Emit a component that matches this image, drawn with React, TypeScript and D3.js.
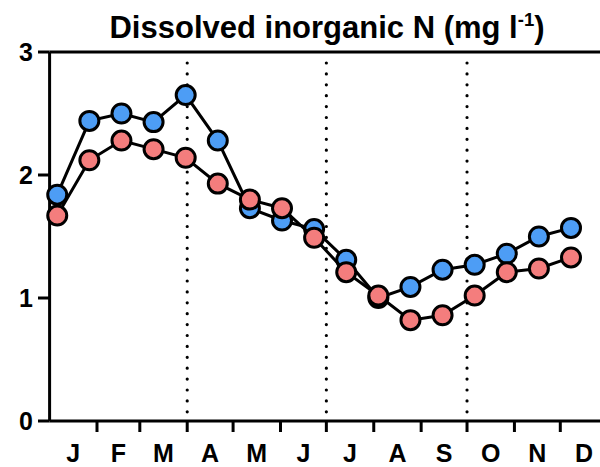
import React from "react";
import * as d3 from "d3";

// sampling days (day of year), roughly every three weeks
const days = [5, 26, 47, 68, 89, 110, 131, 152, 173, 194, 215, 236, 257, 278, 299, 320, 341];
const seriesBlue = [1.84, 2.44, 2.5, 2.43, 2.65, 2.28, 1.73, 1.63, 1.56, 1.31, 1.0, 1.09, 1.23, 1.27, 1.36, 1.5, 1.57];
const seriesRed = [1.67, 2.12, 2.28, 2.21, 2.14, 1.93, 1.8, 1.73, 1.49, 1.21, 1.02, 0.82, 0.86, 1.02, 1.21, 1.24, 1.33];

const monthLabels = ["J", "F", "M", "A", "M", "J", "J", "A", "S", "O", "N", "D"];
const monthStarts = [0, 31, 59, 90, 120, 151, 181, 212, 243, 273, 304, 334, 365];
const quarterDays = [90, 181, 273];
const yTicks = [0, 1, 2, 3];

const W = 600, H = 467;
const font = "'Liberation Sans', Arial, sans-serif";

export default function App() {
  const x = d3.scaleLinear().domain([0, 365]).range([49.6, 607.7]);
  const y = d3.scaleLinear().domain([0, 3]).range([421, 52]);

  const line = d3.line<number>()
    .x((_, i) => x(days[i]))
    .y(d => y(d));

  const series = [
    { values: seriesBlue, fill: "#4d9df5" },
    { values: seriesRed, fill: "#f47d7d" },
  ];

  return (
    <svg width={W} height={H} style={{ position: "absolute", left: 0, top: 0, background: "#fff" }}>
      {/* title */}
      <text x={327} y={38} textAnchor="middle" fontFamily={font} fontWeight="bold" fontSize={31}>
        Dissolved inorganic N (mg l
        <tspan fontSize={18.5} dy={-12}>-1</tspan>
        <tspan dy={12}>)</tspan>
      </text>

      {/* quarter separators */}
      {quarterDays.map(d => (
        <line key={d} x1={x(d)} x2={x(d)} y1={y(3) + 11} y2={y(0)}
          stroke="#000" strokeWidth={3.2} strokeDasharray="0 10.9" strokeLinecap="round" />
      ))}

      {/* y axis */}
      <line x1={x(0)} x2={x(0)} y1={y(3)} y2={y(0)} stroke="#000" strokeWidth={3} />
      {yTicks.map(t => (
        <g key={t}>
          <line x1={38} x2={x(0)} y1={y(t)} y2={y(t)} stroke="#000" strokeWidth={3} />
          <text x={33} y={y(t)} dy="0.36em" textAnchor="end" fontFamily={font} fontWeight="bold" fontSize={25}>{t}</text>
        </g>
      ))}
      {/* top border line */}
      <line x1={x(0)} x2={W} y1={y(3)} y2={y(3)} stroke="#000" strokeWidth={3} />

      {/* x axis */}
      <line x1={x(0)} x2={W} y1={y(0)} y2={y(0)} stroke="#000" strokeWidth={3} />
      {monthStarts.slice(1, 12).map(d => (
        <line key={d} x1={x(d)} x2={x(d)} y1={y(0)} y2={y(0) + 11} stroke="#000" strokeWidth={3} />
      ))}
      {monthLabels.map((m, i) => (
        <text key={i} x={x((monthStarts[i] + monthStarts[i + 1]) / 2)} y={462} textAnchor="middle"
          fontFamily={font} fontWeight="bold" fontSize={25}>{m}</text>
      ))}

      {/* series */}
      {series.map((s, si) => (
        <g key={si}>
          <path d={line(s.values) || ""} fill="none" stroke="#000" strokeWidth={3} />
          {s.values.map((v, i) => (
            <circle key={i} cx={x(days[i])} cy={y(v)} r={9.5} fill={s.fill} stroke="#000" strokeWidth={3} />
          ))}
        </g>
      ))}
    </svg>
  );
}
